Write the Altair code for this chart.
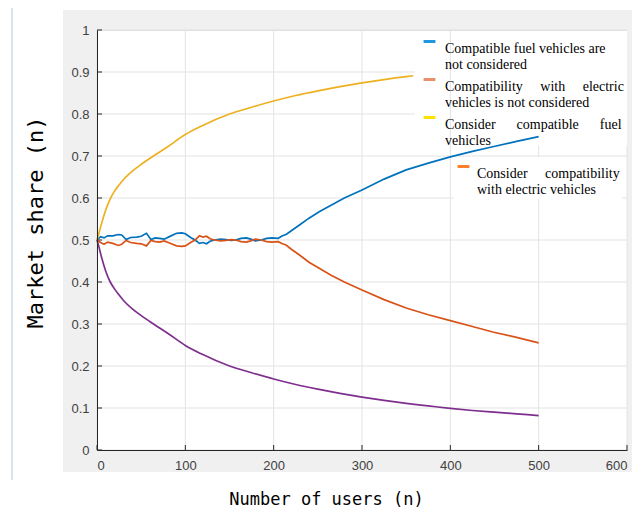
import altair as alt
import pandas as pd

# ---------------- data ----------------
NB = "\u00a0"
series_names = [
    "Compatible fuel vehicles are|not considered",
    "Compatibility" + NB * 4 + " with" + NB * 4 + " electric|vehicles is not considered",
    "Consider" + NB * 5 + " compatible" + NB * 5 + " fuel|vehicles",
    "Consider" + NB * 4 + " compatibility|with electric vehicles",
]
line_colors = ["#0072BD", "#D95319", "#EDB120", "#7E2F8E"]
legend_colors = ["#1E96E0", "#E8906C", "#FFE100", "#FF7F2A"]

blue_x = [0, 4, 8, 12, 18, 24, 28, 33, 38, 45, 50, 56, 61, 66, 71, 76, 82, 90, 96, 100,
          106, 111, 116, 120, 124, 128, 133, 140, 146, 152, 157, 163, 169, 174, 179, 186,
          192, 198, 205, 210, 214, 220, 230, 240, 252, 265, 280, 300, 325, 350, 375, 400,
          425, 448, 475, 500]
blue_y = [0.500, 0.508, 0.505, 0.510, 0.510, 0.513, 0.512, 0.501, 0.506, 0.507, 0.509, 0.516,
          0.501, 0.505, 0.504, 0.502, 0.508, 0.516, 0.517, 0.515, 0.506, 0.500, 0.492, 0.494,
          0.491, 0.497, 0.500, 0.502, 0.501, 0.499, 0.500, 0.504, 0.505, 0.502, 0.498, 0.500,
          0.504, 0.505, 0.504, 0.510, 0.513, 0.522, 0.537, 0.552, 0.568, 0.583, 0.600, 0.619,
          0.645, 0.667, 0.683, 0.698, 0.711, 0.722, 0.735, 0.746]

orange_x = blue_x
orange_y = [0.500, 0.494, 0.490, 0.495, 0.492, 0.487, 0.490, 0.499, 0.494, 0.492, 0.491, 0.486,
            0.499, 0.496, 0.495, 0.498, 0.493, 0.486, 0.485, 0.486, 0.494, 0.500, 0.510, 0.507,
            0.509, 0.503, 0.500, 0.498, 0.499, 0.501, 0.500, 0.496, 0.495, 0.498, 0.502, 0.500,
            0.496, 0.495, 0.496, 0.491, 0.488, 0.478, 0.463, 0.447, 0.432, 0.416, 0.400, 0.381,
            0.358, 0.338, 0.322, 0.308, 0.294, 0.281, 0.268, 0.255]

yellow_x = [0, 2, 5, 10, 15, 20, 25, 30, 40, 50, 64, 80, 100, 118, 150, 175, 200, 225, 250,
            275, 300, 325, 350, 358]
yellow_y = [0.500, 0.515, 0.538, 0.572, 0.598, 0.617, 0.631, 0.644, 0.664, 0.680, 0.700, 0.722,
            0.751, 0.771, 0.800, 0.816, 0.831, 0.844, 0.855, 0.865, 0.874, 0.882, 0.889, 0.891]

purple_x = [0, 2, 5, 10, 15, 20, 25, 30, 40, 50, 64, 80, 100, 118, 150, 175, 200, 225, 250,
            275, 300, 325, 350, 375, 400, 425, 450, 475, 500]
purple_y = [0.500, 0.485, 0.460, 0.425, 0.400, 0.383, 0.369, 0.356, 0.336, 0.320, 0.300, 0.278,
            0.249, 0.229, 0.200, 0.184, 0.169, 0.156, 0.145, 0.135, 0.126, 0.118, 0.111, 0.105,
            0.099, 0.094, 0.090, 0.086, 0.082]

x_ticks = [0, 100, 200, 300, 400, 500, 600]
y_ticks = [0, 0.1, 0.2, 0.3, 0.4, 0.5, 0.6, 0.7, 0.8, 0.9, 1]
# how far each gridline runs before the (white) legend box in the reference
x_grid_top = [1, 1, 1, 1, 1, 0.725, 0.725]
y_grid_end = [600, 600, 600, 600, 600, 600, 600, 600, 360, 360, 600]

# ---------------- tables ----------------
def table(items):
    rows = []
    for name, col, xs_, ys_ in items:
        for xv, yv in zip(xs_, ys_):
            rows.append({"series": name, "hex": col, "users": xv, "share": yv})
    return pd.DataFrame(rows)

noisy_df = table([(series_names[0], line_colors[0], blue_x, blue_y),
                  (series_names[1], line_colors[1], orange_x, orange_y)])
smooth_df = table([(series_names[2], line_colors[2], yellow_x, yellow_y),
                   (series_names[3], line_colors[3], purple_x, purple_y)])
legend_df = pd.DataFrame({"series": series_names, "users": [0] * 4, "share": [0.5] * 4})
xt_df = pd.DataFrame({"users": x_ticks, "share": [0] * len(x_ticks), "top": x_grid_top})
yt_df = pd.DataFrame({"share": y_ticks, "users": [0] * len(y_ticks), "end": y_grid_end})
one = pd.DataFrame({"a": [0]})

W, H = 530, 420
xs = alt.Scale(domain=[0, 600], nice=False)
ys = alt.Scale(domain=[0, 1], nice=False)

x_axis = alt.Axis(values=x_ticks, grid=False, ticks=False, domainColor="#262626",
                  labelFont="Liberation Sans", labelFontSize=13, labelColor="#404040",
                  labelPadding=9, title="Number of users (n)", titleFont="DejaVu Sans Mono",
                  titleFontSize=17, titleFontWeight="normal", titleColor="black",
                  titleX=229, titleY=41, titleBaseline="top", zindex=1)
y_axis = alt.Axis(values=y_ticks, format="~g", grid=False, ticks=False, domainColor="#262626",
                  labelFont="Liberation Sans", labelFontSize=13, labelColor="#404040",
                  labelPadding=8, title="Market share (n)", titleFont="DejaVu Sans Mono",
                  titleFontSize=22, titleFontWeight="normal", titleColor="black",
                  titleX=-62, titleY=192, titleBaseline="middle", zindex=1)
X = lambda: alt.X("users:Q", scale=xs, axis=x_axis)
Y = lambda: alt.Y("share:Q", scale=ys, axis=y_axis)

GRAY = "#F0F0F0"
bands = [
    (-34, 0, -20, H + 22),
    (W, W + 6, -20, H + 22),
    (0, W, -20, 0),
    (0, W, H, H + 22),
]
band_layers = [
    alt.Chart(one).mark_rect(color=GRAY).encode(
        x=alt.value(a), x2=alt.value(b), y=alt.value(c), y2=alt.value(d))
    for a, b, c, d in bands
]
edge = alt.Chart(one).mark_rule(color="#B4C7E7", strokeWidth=1).encode(
    x=alt.value(-85), y=alt.value(-22), y2=alt.value(H + 30))

grid_x = alt.Chart(xt_df).mark_rule(color="#E3E3E3", strokeWidth=1).encode(
    x=X(), y=Y(), y2="top:Q")
grid_y = alt.Chart(yt_df).mark_rule(color="#E3E3E3", strokeWidth=1).encode(
    y=Y(), x=X(), x2="end:Q")
tick_x = alt.Chart(xt_df).mark_rule(color="#262626").encode(
    x=X(), y=alt.value(H), y2=alt.value(H - 5))
tick_y = alt.Chart(yt_df).mark_rule(color="#262626").encode(
    y=Y(), x=alt.value(0), x2=alt.value(5))

noisy = alt.Chart(noisy_df).mark_line(strokeWidth=1.7).encode(
    x=X(), y=Y(),
    stroke=alt.Stroke("hex:N", scale=None),
    detail="series:N",
    order="users:Q",
)
smooth = alt.Chart(smooth_df).mark_line(strokeWidth=1.7, interpolate="monotone").encode(
    x=X(), y=Y(),
    stroke=alt.Stroke("hex:N", scale=None),
    detail="series:N",
    order="users:Q",
)

leg_common = dict(title=None, orient="none", symbolType="stroke",
                  symbolSize=140, symbolStrokeWidth=3, labelFont="Liberation Serif",
                  labelFontSize=14, labelColor="black", labelLimit=320,
                  labelExpr="split(datum.label, '|')", labelBaseline="top", zindex=2)

dummy_a = alt.Chart(legend_df.iloc[:3]).mark_line().encode(
    x=X(), y=Y(),
    color=alt.Color("series:N",
                    scale=alt.Scale(domain=series_names[:3], range=legend_colors[:3]),
                    legend=alt.Legend(legendX=322, legendY=1, padding=3, rowPadding=0,
                                      labelOffset=8, **leg_common)),
)
dummy_b = alt.Chart(legend_df.iloc[3:]).mark_line(color=legend_colors[3]).encode(
    x=X(), y=Y(),
    strokeDash=alt.StrokeDash("series:N",
                              scale=alt.Scale(domain=series_names[3:], range=[[1, 0]]),
                              legend=alt.Legend(legendX=357, legendY=127, padding=2,
                                                labelOffset=6, fillColor="white",
                                                **leg_common)),
)

chart = alt.layer(
    *band_layers, edge, grid_x, grid_y, tick_x, tick_y, noisy, smooth, dummy_a, dummy_b
).properties(
    width=W, height=H,
    padding={"left": 89, "top": 22, "right": 5, "bottom": 62},
    autosize=alt.AutoSizeParams(type="none"),
).configure_view(stroke=None).configure(background="white")

chart.save("out.html", embed_options={"renderer": "svg", "actions": False})
